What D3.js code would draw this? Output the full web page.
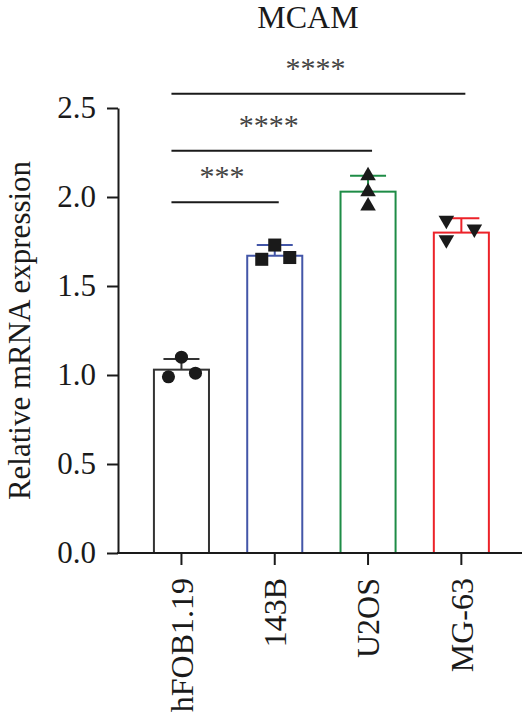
<!DOCTYPE html>
<meta charset="utf-8">
<title>MCAM</title>
<style>
body { margin: 0; background: #fff; }
svg { display: block; }
text { font-family: "Liberation Serif", "Times New Roman", serif; fill: #1a1a1a; }
.axis path, .axis line { stroke: #1a1a1a; stroke-width: 2px; }
.axis text { font-size: 31px; }
</style>
<body>
<div id="graph"></div>
</body>
<script src="https://cdn.jsdelivr.net/npm/d3@7"></script>
<script>

var categories = ['hFOB1.19', '143B', 'U2OS', 'MG-63'],
    means = [1.03, 1.67, 2.03, 1.80],
    sds = [0.06, 0.06, 0.09, 0.08],
    points = [
      [0.99, 1.10, 1.01],
      [1.65, 1.73, 1.66],
      [2.12, 2.03, 1.95],
      [1.87, 1.82, 1.76]
    ],
    yTicks = [0, 0.5, 1.0, 1.5, 2.0, 2.5],
    compTargets = ['143B', 'U2OS', 'MG-63'],
    compLevels = [1.97, 2.26, 2.58],
    compLabels = ['***', '****', '****']

var colors = ['#333333', '#4356a8', '#1e8c46', '#ec2229'],
    shapes = [d3.symbolCircle, d3.symbolSquare, d3.symbolTriangle, d3.symbolTriangle],
    sizes = [135, 170, 105, 105],
    flip = [0, 0, 0, 180],
    jitter = [[-13, 0, 14], [-13, 0, 15], [0, 0, 0], [-15, 13, -15]]

var width = 524, height = 713, x0 = 118, xEnd = 522

var svg = d3.select('#graph').append('svg')
    .attr('width', width).attr('height', height)

var y = d3.scaleLinear().domain([0, 2.5]).range([553, 108])
var x = d3.scaleBand().domain(categories).range([134.8, 508])
    .paddingInner(0.41).paddingOuter(0.205)
var cx = function(c){ return x(c) + x.bandwidth()/2 }

// title
svg.append('text')
    .attr('x', (x0 + 498)/2).attr('y', 28)
    .attr('text-anchor', 'middle')
    .style('font-size', '32px')
    .text('MCAM')

// y axis
svg.append('g').attr('class', 'axis')
    .attr('transform', 'translate(' + x0 + ',0)')
    .call(d3.axisLeft(y).tickValues(yTicks).tickFormat(d3.format('.1f'))
      .tickSize(11).tickPadding(11).tickSizeOuter(0))

svg.append('text')
    .attr('transform', 'translate(30,' + (y(0) + y(2.5))/2 + ') rotate(-90)')
    .attr('text-anchor', 'middle')
    .style('font-size', '31px')
    .text('Relative mRNA expression')

// bars
var g = svg.selectAll('g.bar').data(categories).enter().append('g').attr('class', 'bar')

g.append('rect')
    .attr('x', function(d){ return x(d) })
    .attr('width', x.bandwidth())
    .attr('y', function(d, i){ return y(means[i]) })
    .attr('height', function(d, i){ return y(0) - y(means[i]) })
    .attr('fill', '#fff')
    .attr('stroke', function(d, i){ return colors[i] })
    .attr('stroke-width', 2)

// error bars (upper only)
g.append('line')
    .attr('x1', cx).attr('x2', cx)
    .attr('y1', function(d, i){ return y(means[i]) })
    .attr('y2', function(d, i){ return y(means[i] + sds[i]) })
    .attr('stroke', function(d, i){ return colors[i] })
    .attr('stroke-width', 2)

g.append('line')
    .attr('x1', function(d){ return cx(d) - 18 })
    .attr('x2', function(d){ return cx(d) + 18 })
    .attr('y1', function(d, i){ return y(means[i] + sds[i]) })
    .attr('y2', function(d, i){ return y(means[i] + sds[i]) })
    .attr('stroke', function(d, i){ return colors[i] })
    .attr('stroke-width', 2)

// points
categories.forEach(function(c, i){
  svg.selectAll('path.pt' + i).data(points[i]).enter().append('path')
      .attr('class', 'pt' + i)
      .attr('d', d3.symbol().type(shapes[i]).size(sizes[i]))
      .attr('transform', function(v, j){
        return 'translate(' + (cx(c) + jitter[i][j]) + ',' + y(v) + ') rotate(' + flip[i] + ')'
      })
      .attr('fill', '#1a1a1a')
})

// x axis
var xa = svg.append('g').attr('class', 'axis')
    .attr('transform', 'translate(0,' + y(0) + ')')
    .call(d3.axisBottom(x).tickSize(12).tickSizeOuter(0))
xa.select('.domain').remove()
xa.append('line').attr('x1', x0 - 1).attr('x2', xEnd)
    .attr('stroke', '#1a1a1a').attr('stroke-width', 2)
xa.selectAll('text')
    .attr('transform', 'rotate(-90)')
    .attr('x', -25).attr('y', 0).attr('dy', '0.35em')
    .style('text-anchor', 'end')
    .style('font-size', '32px')

// significance
var comp = svg.selectAll('g.comp').data(compTargets).enter().append('g').attr('class', 'comp')
var cx1 = cx(categories[0]) - 10
comp.append('line')
    .attr('x1', cx1)
    .attr('x2', function(d){ return cx(d) + 4 })
    .attr('y1', function(d, i){ return y(compLevels[i]) })
    .attr('y2', function(d, i){ return y(compLevels[i]) })
    .attr('stroke', '#1a1a1a').attr('stroke-width', 2)
comp.append('text')
    .attr('x', function(d){ return (cx1 + cx(d) + 4)/2 - 3 })
    .attr('y', function(d, i){ return y(compLevels[i]) - 16 })
    .attr('text-anchor', 'middle')
    .style('font-size', '30px')
    .style('fill', '#444')
    .text(function(d, i){ return compLabels[i] })

</script>
